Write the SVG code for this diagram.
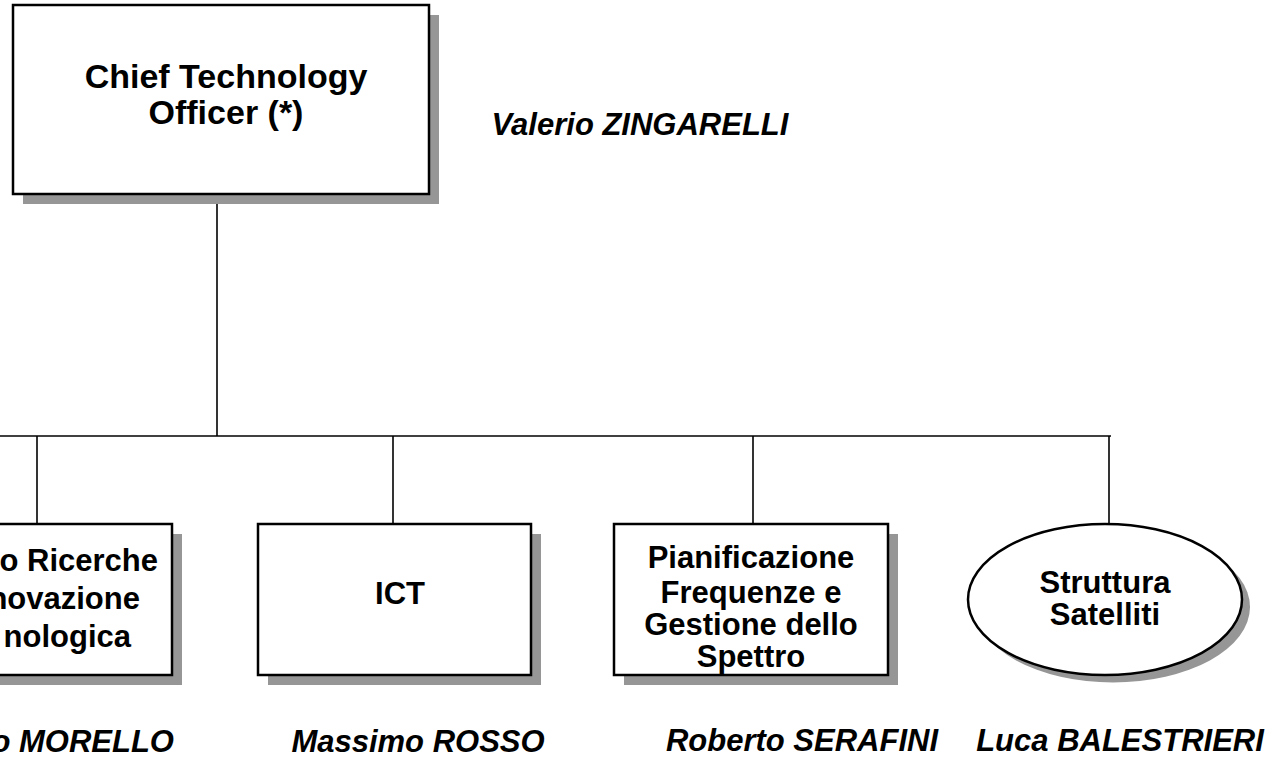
<svg xmlns="http://www.w3.org/2000/svg" width="1271" height="762" viewBox="0 0 1271 762">
<style>
.shadow{fill:#969696;stroke:none}
.box{fill:#ffffff;stroke:#000000;stroke-width:2.5}
.conn{stroke:#000000;stroke-width:1.6;fill:none}
.t{font-family:"Liberation Sans",Arial,sans-serif;font-weight:bold;fill:#000000;text-anchor:middle}
.big{font-size:34px}
.mid{font-size:31px}
.name{font-family:"Liberation Sans",Arial,sans-serif;font-weight:bold;font-style:italic;font-size:31px;fill:#000000;text-anchor:middle}
</style>
<rect width="1271" height="762" fill="#ffffff"/>
<g id="connectors">
<line class="conn" x1="217" y1="194" x2="217" y2="436"/>
<line class="conn" x1="0" y1="436" x2="1111" y2="436"/>
<line class="conn" x1="37" y1="436" x2="37" y2="524"/>
<line class="conn" x1="393" y1="436" x2="393" y2="524"/>
<line class="conn" x1="753" y1="436" x2="753" y2="524"/>
<line class="conn" x1="1109" y1="436" x2="1109" y2="524"/>
</g>
<g id="node-cto">
<rect class="shadow" x="23" y="15" width="416" height="189"/>
<rect class="box" x="13" y="5" width="416" height="189"/>
<text class="t big" x="226" y="88">Chief Technology</text>
<text class="t big" x="226" y="124">Officer (*)</text>
</g>
<text id="name-cto" class="name" x="640" y="135">Valerio ZINGARELLI</text>
<g id="node-ricerche">
<rect class="shadow" x="-91" y="534" width="273" height="151"/>
<rect class="box" x="-101" y="524" width="273" height="151"/>
<text class="t mid" x="158" y="571" style="text-anchor:end">o Ricerche</text>
<text class="t mid" x="140" y="609" style="text-anchor:end">novazione</text>
<text class="t mid" x="131" y="647" style="text-anchor:end">nologica</text>
</g>
<text id="name-ricerche" class="name" x="174" y="752" style="text-anchor:end">o MORELLO</text>
<g id="node-ict">
<rect class="shadow" x="268" y="534" width="273" height="151"/>
<rect class="box" x="258" y="524" width="273" height="151"/>
<text class="t mid" x="400" y="604">ICT</text>
</g>
<text id="name-ict" class="name" x="418" y="752">Massimo ROSSO</text>
<g id="node-spettro">
<rect class="shadow" x="624" y="534" width="274" height="151"/>
<rect class="box" x="614" y="524" width="274" height="151"/>
<text class="t mid" x="751" y="568">Pianificazione</text>
<text class="t mid" x="751" y="603">Frequenze e</text>
<text class="t mid" x="751" y="635">Gestione dello</text>
<text class="t mid" x="751" y="667">Spettro</text>
</g>
<text id="name-spettro" class="name" x="802" y="751">Roberto SERAFINI</text>
<g id="node-satelliti">
<ellipse class="shadow" cx="1113" cy="607" rx="137" ry="75.5"/>
<ellipse class="box" cx="1105" cy="599.5" rx="137" ry="75.5" stroke-width="1.8"/>
<text class="t mid" x="1105" y="593">Struttura</text>
<text class="t mid" x="1105" y="625">Satelliti</text>
</g>
<text id="name-satelliti" class="name" x="1120" y="751">Luca BALESTRIERI</text>
</svg>
